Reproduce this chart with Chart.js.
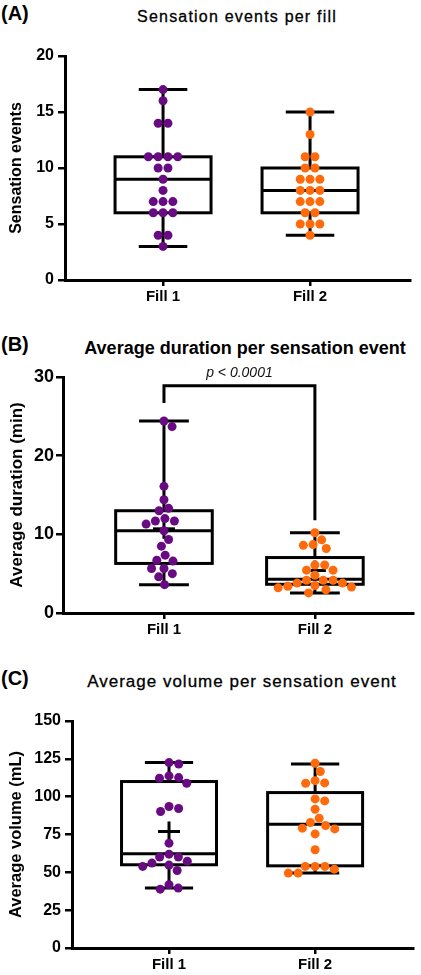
<!DOCTYPE html>
<html>
<head>
<meta charset="utf-8">
<script src="https://cdn.jsdelivr.net/npm/chart.js@4"></script>
<style>
  html, body { margin: 0; padding: 0; background: #fff; overflow: hidden; }
  #wrap { position: relative; width: 421px; height: 975px; font-family: "Liberation Sans", Arial, sans-serif; color: #000; }
  canvas { position: absolute; left: 0; display: block; }
  .tag { position: absolute; left: 1px; font-weight: bold; font-size: 20px; line-height: 24px; }
  .ttl { position: absolute; white-space: nowrap; transform: translateX(-50%); }
</style>
</head>
<body>
<div id="wrap">
  <div class="tag" style="top:1px">(A)</div>
  <div class="ttl" style="left:237px;top:7px;font-size:16px;line-height:20px;letter-spacing:1.2px;-webkit-text-stroke:0.3px #000">Sensation events per fill</div>
  <div class="tag" style="top:332px">(B)</div>
  <div class="ttl" style="left:245px;top:337px;font-size:18px;line-height:22px;font-weight:bold">Average duration per sensation event</div>
  <div class="tag" style="top:666px">(C)</div>
  <div class="ttl" style="left:242px;top:672px;font-size:17px;line-height:20px;letter-spacing:1px;-webkit-text-stroke:0.3px #000">Average volume per sensation event</div>

  <canvas id="chartA" width="421" height="320" style="top:0"></canvas>
  <canvas id="chartB" width="421" height="325" style="top:320px"></canvas>
  <canvas id="chartC" width="421" height="330" style="top:645px"></canvas>
</div>

<script>
const categories = ['Fill 1', 'Fill 2'];
const colors = ['#680a82', '#ff6a0a'];

// (A) sensation events per fill
const eventsFill1 = [17, 16, 14, 14, 11, 11, 11, 11, 10, 10, 9, 8, 7, 7, 7, 6, 6, 6, 4, 4, 3];
const eventsFill2 = [15, 13, 11, 11, 10, 10, 9, 9, 9, 8, 8, 8, 7, 7, 7, 6, 6, 5, 5, 5, 4];
// min, q1, median, q3, max
const eventsBox = [[3, 6, 9, 11, 17], [4, 6, 8, 10, 15]];
const eventsTicks = [0, 5, 10, 15, 20];

// (B) average duration per sensation event (min)
const durationFill1 = [24.4, 23.7, 16.1, 14.4, 13.3, 13.0, 12.0, 11.7, 11.7, 11.3, 10.45, 9.35, 8.5, 7.35, 6.7, 6.6, 5.65, 5.65, 5.0, 4.6, 3.6];
const durationFill2 = [10.2, 9.3, 8.7, 8.6, 8.2, 6.1, 6.1, 5.45, 5.45, 4.8, 4.15, 4.15, 4.15, 3.8, 3.8, 3.5, 3.4, 3.3, 3.2, 2.95, 2.55];
const durationBox = [[3.6, 6.3, 10.45, 13.0, 24.4], [2.55, 3.65, 4.3, 7.05, 10.2]];
const durationMean = [10.7, 5.4];
const durationTicks = [0, 10, 20, 30];

// (C) average volume per sensation event (mL)
const volumeFill1 = [122.5, 121.6, 113.7, 112.6, 112.2, 108.9, 93.5, 92.2, 90.2, 69.3, 62.0, 60.1, 60.1, 57.4, 56.1, 54.8, 53.9, 51.2, 41.8, 39.6, 38.9];
const volumeFill2 = [122.1, 116.6, 110.6, 109.1, 108.9, 98.5, 97.2, 91.7, 85.8, 82.9, 80.9, 79.2, 78.7, 75.4, 64.9, 53.9, 53.9, 53.9, 52.1, 49.5, 49.5];
const volumeBox = [[39.6, 55, 62.2, 110, 122.5], [49.5, 54.3, 81.8, 102.7, 121.6]];
const volumeMean = [77, null];
const volumeTicks = [0, 25, 50, 75, 100, 125, 150];

const FONT = '"Liberation Sans", Arial, sans-serif';

// simple beeswarm: offsets in px so dots of diameter d don't overlap
function swarm(ys, d, centerTies) {
  const order = ys.map((_, i) => i).sort((a, b) => ys[a] - ys[b]);
  const placed = [];
  const off = new Array(ys.length).fill(0);
  order.forEach(i => {
    const y = ys[i];
    const cands = [0];
    placed.forEach(p => {
      const dy = Math.abs(p.y - y);
      if (dy < d) {
        const dx = Math.sqrt(d * d - dy * dy);
        cands.push(p.x + dx, p.x - dx);
      }
    });
    cands.sort((a, b) => Math.abs(a) - Math.abs(b));
    const x = cands.find(c => placed.every(p => (p.x - c) ** 2 + (p.y - y) ** 2 >= d * d - 0.01));
    off[i] = x;
    placed.push({ x, y });
  });
  if (centerTies) {
    const groups = {};
    ys.forEach((y, i) => { (groups[y.toFixed(2)] = groups[y.toFixed(2)] || []).push(i); });
    Object.values(groups).forEach(g => {
      const m = g.reduce((s, i) => s + off[i], 0) / g.length;
      g.forEach(i => { off[i] -= m; });
    });
  }
  return off;
}

const boxPlot = {
  id: 'boxPlot',
  afterDatasetsUpdate(chart, args, opts) {
    const xs = chart.scales.x;
    chart.data.datasets.forEach((ds, i) => {
      const meta = chart.getDatasetMeta(i);
      const cx = xs.getPixelForValue(ds.data[0].x);
      const off = swarm(meta.data.map(p => p.y), opts.dotGap, opts.centerTies);
      meta.data.forEach((p, j) => { p.x = cx + off[j]; });
    });
  },
  beforeDatasetsDraw(chart, args, opts) {
    const { ctx, scales: { x, y } } = chart;
    const line = (x1, y1, x2, y2) => { ctx.beginPath(); ctx.moveTo(x1, y1); ctx.lineTo(x2, y2); ctx.stroke(); };
    ctx.save();
    ctx.strokeStyle = '#000';
    ctx.lineWidth = 3;
    opts.stats.forEach((s, i) => {
      const [lo, q1, med, q3, hi] = s.map(v => y.getPixelForValue(v));
      const cx = x.getPixelForValue(i + 1);
      const hw = x.getPixelForValue(i + 1 + opts.boxWidth / 2) - cx;
      const cw = x.getPixelForValue(i + 1 + opts.capWidth / 2) - cx;
      ctx.strokeRect(cx - hw, q3, 2 * hw, q1 - q3);
      line(cx - hw, med, cx + hw, med);
      line(cx, q3, cx, hi);
      line(cx - cw, hi, cx + cw, hi);
      line(cx, q1, cx, lo);
      line(cx - cw, lo, cx + cw, lo);
      const mean = opts.means ? opts.means[i] : null;
      if (mean != null) {
        const my = y.getPixelForValue(mean);
        line(cx - 11, my, cx + 11, my);
        line(cx, my - 10, cx, my + 10);
      }
    });
    ctx.restore();
  },
  afterDraw(chart, args, opts) {
    const b = opts.bracket;
    if (!b) return;
    const { ctx, scales: { x, y } } = chart;
    const x1 = x.getPixelForValue(1), x2 = x.getPixelForValue(2);
    const top = y.getPixelForValue(b.y);
    ctx.save();
    ctx.strokeStyle = '#000';
    ctx.lineWidth = 3;
    ctx.beginPath();
    ctx.moveTo(x1, y.getPixelForValue(b.left));
    ctx.lineTo(x1, top);
    ctx.lineTo(x2, top);
    ctx.lineTo(x2, y.getPixelForValue(b.right));
    ctx.stroke();
    ctx.fillStyle = '#111';
    ctx.font = 'italic 14px ' + FONT;
    ctx.textAlign = 'center';
    ctx.textBaseline = 'middle';
    ctx.fillText(b.text, x.getPixelForValue(1.5), y.getPixelForValue(b.textY));
    ctx.restore();
  }
};

function makePanel(id, p) {
  new Chart(document.getElementById(id), {
    type: 'scatter',
    data: {
      datasets: p.series.map((vals, i) => ({
        data: vals.map(v => ({ x: i + 1, y: v })),
        backgroundColor: colors[i],
        borderWidth: 0,
        pointRadius: 4.5
      }))
    },
    options: {
      responsive: false,
      animation: false,
      events: [],
      layout: { padding: { top: p.padTop, right: p.padRight, bottom: 0, left: 0 } },
      plugins: {
        legend: { display: false },
        tooltip: { enabled: false },
        boxPlot: {
          stats: p.box, means: p.means, boxWidth: p.boxWidth, capWidth: 0.33,
          dotGap: 9.8, centerTies: p.centerTies, bracket: p.bracket
        }
      },
      scales: {
        x: {
          type: 'linear',
          min: p.xMin,
          max: p.xMax,
          afterBuildTicks: s => { s.ticks = [{ value: 1 }, { value: 2 }]; },
          afterFit: s => { s.height = p.xHeight; },
          ticks: {
            callback: v => categories[v - 1],
            color: '#000',
            padding: 2,
            autoSkip: false,
            maxRotation: 0,
            font: { family: FONT, size: 15, weight: 'bold' }
          },
          grid: { drawOnChartArea: false, drawTicks: true, tickLength: 6, color: '#000', lineWidth: 2.5 },
          border: { color: '#000', width: 3 }
        },
        y: {
          min: p.yTicks[0],
          max: p.yTicks[p.yTicks.length - 1],
          afterBuildTicks: s => { s.ticks = p.yTicks.map(v => ({ value: v })); },
          afterFit: s => { s.width = p.yWidth; },
          ticks: {
            color: '#000',
            padding: p.tickPad,
            font: { family: FONT, size: p.tickSize, weight: 'bold' }
          },
          grid: { drawOnChartArea: false, drawTicks: true, tickLength: 7, color: '#000', lineWidth: 2.5 },
          border: { color: '#000', width: 3 },
          title: {
            display: true,
            text: p.yTitle,
            color: '#000',
            padding: { top: 7, bottom: 0 },
            font: { family: FONT, size: p.titleSize, weight: 'bold' }
          }
        }
      }
    },
    plugins: [boxPlot]
  });
}

makePanel('chartA', {
  series: [eventsFill1, eventsFill2], box: eventsBox, means: null, yTicks: eventsTicks,
  yTitle: 'Sensation events', titleSize: 16, tickSize: 16, tickPad: 4,
  padTop: 56, padRight: 11, yWidth: 65, xHeight: 40,
  xMin: 0.333, xMax: 2.68, boxWidth: 0.653, centerTies: true
});

makePanel('chartB', {
  series: [durationFill1, durationFill2], box: durationBox, means: durationMean, yTicks: durationTicks,
  yTitle: 'Average duration (min)', titleSize: 17, tickSize: 18, tickPad: 2,
  padTop: 57, padRight: 8, yWidth: 63, xHeight: 32,
  xMin: 0.331, xMax: 2.65, boxWidth: 0.64, centerTies: false,
  bracket: { y: 28.9, left: 26.7, right: 11.8, text: 'p < 0.0001', textY: 30.5 }
});

makePanel('chartC', {
  series: [volumeFill1, volumeFill2], box: volumeBox, means: volumeMean, yTicks: volumeTicks,
  yTitle: 'Average volume (mL)', titleSize: 16.5, tickSize: 16, tickPad: 4,
  padTop: 76, padRight: 8, yWidth: 72, xHeight: 27,
  xMin: 0.336, xMax: 2.67, boxWidth: 0.65, centerTies: false
});
</script>
</body>
</html>
